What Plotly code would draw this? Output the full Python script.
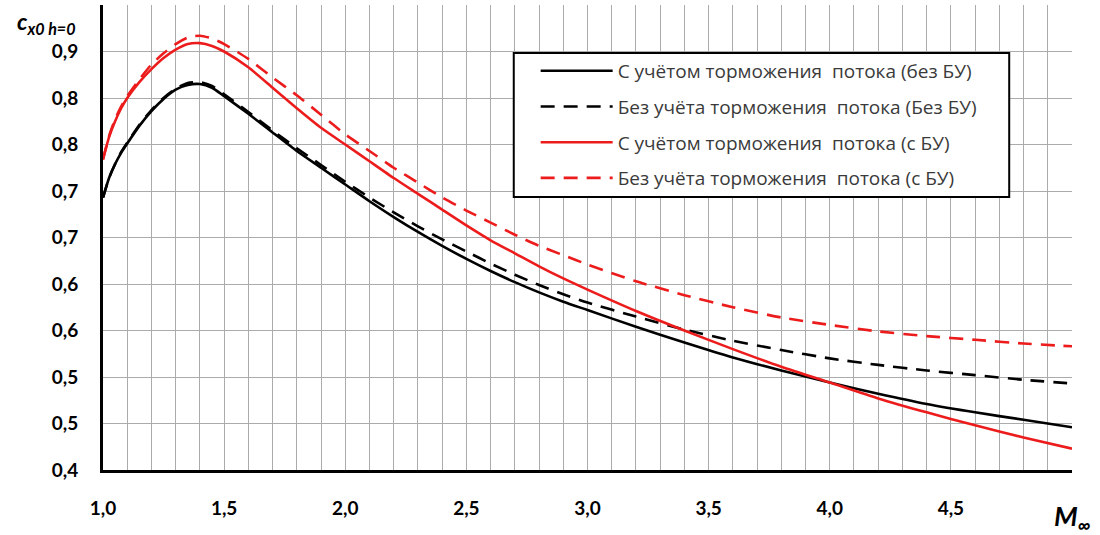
import plotly.graph_objects as go

mach = [1.0, 1.025, 1.05, 1.075, 1.1, 1.15, 1.2, 1.25, 1.3, 1.35, 1.4, 1.45, 1.5,
        1.6, 1.7, 1.8, 1.9, 2.0, 2.1, 2.2, 2.3, 2.4, 2.5, 2.6, 2.7, 2.8, 2.9, 3.0,
        3.2, 3.4, 3.6, 3.8, 4.0, 4.2, 4.4, 4.6, 4.8, 5.0]

black_solid = [0.693, 0.714, 0.729, 0.741, 0.751, 0.770, 0.786, 0.799, 0.809, 0.814, 0.815, 0.811, 0.802,
               0.783, 0.763, 0.743, 0.725, 0.707, 0.689, 0.672, 0.656, 0.641, 0.627, 0.614, 0.602, 0.591, 0.581, 0.572,
               0.554, 0.537, 0.521, 0.507, 0.494, 0.482, 0.471, 0.462, 0.454, 0.446]

black_dashed = [0.693, 0.714, 0.729, 0.742, 0.752, 0.771, 0.787, 0.800, 0.810, 0.816, 0.817, 0.813, 0.804,
                0.785, 0.765, 0.746, 0.728, 0.710, 0.693, 0.677, 0.662, 0.648, 0.635, 0.622, 0.610, 0.599, 0.589, 0.580,
                0.565, 0.551, 0.539, 0.529, 0.520, 0.513, 0.507, 0.502, 0.497, 0.493]

red_solid = [0.734, 0.758, 0.775, 0.789, 0.800, 0.817, 0.831, 0.843, 0.852, 0.858, 0.859, 0.856, 0.850,
             0.833, 0.811, 0.789, 0.768, 0.750, 0.732, 0.714, 0.697, 0.680, 0.663, 0.647, 0.633, 0.619, 0.606, 0.594,
             0.571, 0.550, 0.530, 0.511, 0.494, 0.477, 0.462, 0.448, 0.435, 0.423]

red_dashed = [0.734, 0.759, 0.777, 0.791, 0.802, 0.820, 0.836, 0.848, 0.858, 0.865, 0.867, 0.864, 0.858,
              0.842, 0.822, 0.803, 0.782, 0.761, 0.743, 0.725, 0.709, 0.693, 0.679, 0.666, 0.653, 0.641, 0.631, 0.621,
              0.603, 0.588, 0.575, 0.564, 0.556, 0.549, 0.544, 0.540, 0.536, 0.533]

names = ["С учётом торможения  потока (без БУ)",
         "Без учёта торможения  потока (Без БУ)",
         "С учётом торможения  потока (с БУ)",
         "Без учёта торможения  потока (с БУ)"]

y_tickvals = [0.40, 0.45, 0.50, 0.55, 0.60, 0.65, 0.70, 0.75, 0.80, 0.85, 0.90]
y_ticktext = ["0,4", "0,5", "0,5", "0,6", "0,6", "0,7", "0,7", "0,8", "0,8", "0,9", " "]
x_tickvals = [1.0, 1.5, 2.0, 2.5, 3.0, 3.5, 4.0, 4.5]
x_ticktext = ["1,0", "1,5", "2,0", "2,5", "3,0", "3,5", "4,0", "4,5"]

RED = "#ec1c1c"
series = [(black_solid, "black", "solid"),
          (black_dashed, "black", "14px,9px"),
          (red_solid, RED, "solid"),
          (red_dashed, RED, "14px,9px")]

fig = go.Figure()
for i, (vals, col, dash) in enumerate(series):
    fig.add_trace(go.Scatter(
        x=mach, y=vals, mode="lines", name=names[i], legendgroup=f"g{i}",
        line=dict(color=col, width=2.6, dash=dash, shape="spline", smoothing=0.6)))

grid_col = "#ababab"
fig.update_layout(
    width=1100, height=535,
    margin=dict(l=103, r=28, t=5, b=65),
    paper_bgcolor="white", plot_bgcolor="white",
    font=dict(family="Lato, 'Open Sans', sans-serif", color="black"),
    showlegend=True,
    legend=dict(x=0.4465, y=0.899, xanchor="left", yanchor="top",
                bgcolor="rgba(0,0,0,0)", borderwidth=0,
                font=dict(size=19, color="#3a3a3a", family="'Open Sans', sans-serif"),
                tracegroupgap=8, itemwidth=72),
    xaxis=dict(range=[1.0, 5.0], tickvals=x_tickvals, ticktext=x_ticktext,
               showgrid=True, gridcolor=grid_col, gridwidth=1,
               minor=dict(dtick=0.1, showgrid=True, gridcolor=grid_col, gridwidth=1),
               showline=True, linecolor="black", linewidth=3, ticks="",
               tickfont=dict(size=19, family="Lato", color="black", weight="bold"),
               ticklabelstandoff=19, zeroline=False),
    yaxis=dict(range=[0.4, 0.9], tickvals=y_tickvals, ticktext=y_ticktext,
               showgrid=True, gridcolor=grid_col, gridwidth=1,
               showline=True, linecolor="black", linewidth=3, ticks="",
               tickfont=dict(size=19, family="Lato", color="black", weight="bold"),
               ticklabelstandoff=18, zeroline=False),
    shapes=[dict(type="rect", xref="paper", yref="paper",
                 x0=0.4239, x1=0.9352, y0=0.587, y1=0.897,
                 fillcolor="white", line=dict(color="black", width=2), layer="above")],
)

fig.add_annotation(xref="paper", yref="paper", x=-0.026, y=1.0, xanchor="right", yanchor="top",
                   text="<b><i>c<sub>x0 h=0</sub></i></b>", showarrow=False,
                   font=dict(size=23, family="Lato", color="black"))
fig.add_annotation(xref="paper", yref="paper", x=1.0, y=-0.058, xanchor="center", yanchor="top",
                   text="<b><i>M<sub>∞</sub></i></b>", showarrow=False,
                   font=dict(size=27, family="Lato", color="black"))

fig.write_html("out.html", config={"displayModeBar": False},
               post_script="document.body.style.margin='0px';")
